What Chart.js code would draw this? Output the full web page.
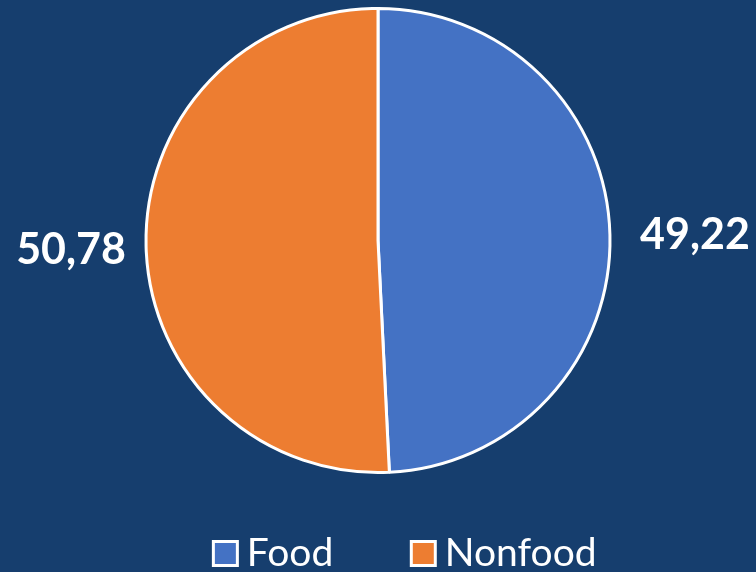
<!DOCTYPE html>
<html>
<head>
<meta charset="utf-8">
<script src="https://cdn.jsdelivr.net/npm/chart.js@4.4.0/dist/chart.umd.min.js"></script>
<style>
  html, body { margin: 0; padding: 0; background: #163e6e; }
  #wrap { width: 756px; height: 572px; }
</style>
</head>
<body>
<div id="wrap"><canvas id="pieChart"></canvas></div>
<script>
// Data pie
const categories = ["Food", "Nonfood"];
const shares = [49.22, 50.78];
const sliceColors = ["#4472c4", "#ed7d31"];

// Label nilai di luar irisan, format desimal koma
const valueLabels = {
    id: "valueLabels",
    afterDatasetsDraw(chart) {
        const c = chart.ctx;
        const meta = chart.getDatasetMeta(0);
        c.save();
        c.fillStyle = "#ffffff";
        c.font = "bold 43px Lato";
        c.textAlign = "center";
        c.textBaseline = "middle";
        meta.data.forEach((arc, i) => {
            const mid = (arc.startAngle + arc.endAngle) / 2;
            const dist = arc.outerRadius + 80;
            const x = arc.x + Math.cos(mid) * dist + 5;
            const y = arc.y + Math.sin(mid) * dist + 2;
            c.fillText(shares[i].toFixed(2).replace(".", ","), x, y);
        });
        c.restore();
    },
};

// Geser legend sedikit ke kanan dan ke atas
const legendShift = {
    id: "legendShift",
    afterLayout(chart) {
        const lg = chart.legend;
        lg.left += 32;
        lg.right += 32;
        lg.top -= 28;
        lg.bottom -= 28;
    },
};

const ctx = document.getElementById("pieChart").getContext("2d");
new Chart(ctx, {
    type: "pie",
    data: {
        labels: categories,
        datasets: [
            {
                data: shares,
                backgroundColor: sliceColors,
                borderColor: "#ffffff",
                borderWidth: 3,
            },
        ],
    },
    options: {
        responsive: true,
        maintainAspectRatio: false,
        animation: false,
        layout: { padding: { top: 7, bottom: -39 } },
        plugins: {
            legend: {
                position: "bottom",
                labels: {
                    color: "#ffffff",
                    font: { family: "Lato", size: 39, lineHeight: 1 },
                    usePointStyle: true,
                    pointStyle: "rect",
                    boxWidth: 4,
                    boxHeight: 24,
                    padding: 88,
                },
            },
            tooltip: { enabled: false },
        },
    },
    plugins: [valueLabels, legendShift],
});
</script>
</body>
</html>
